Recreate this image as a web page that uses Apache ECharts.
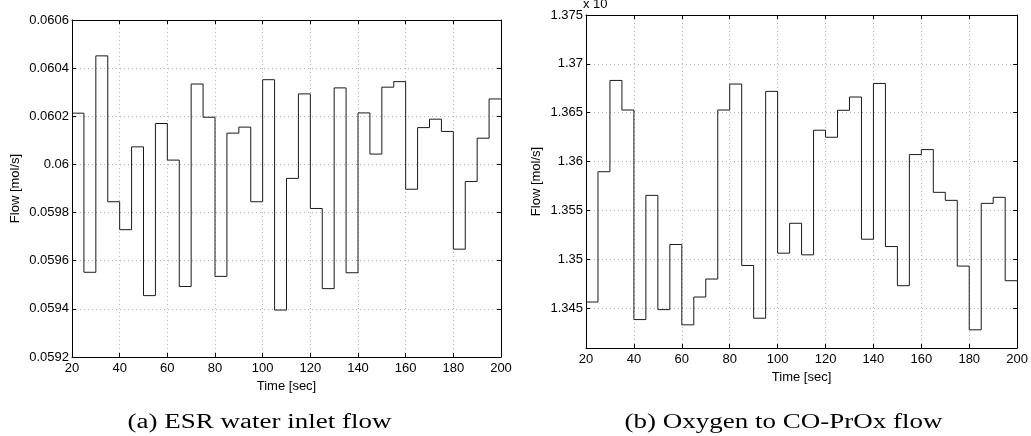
<!DOCTYPE html>
<html><head><meta charset="utf-8">
<script src="https://cdn.jsdelivr.net/npm/echarts@6/dist/echarts.min.js"></script>
<style>html,body{margin:0;padding:0;background:#fff}#c{width:1031px;height:436px}</style>
</head><body><div id="c"></div>
<script>
const time = [20,25,30,35,40,45,50,55,60,65,70,75,80,85,90,95,100,105,110,115,120,125,130,135,140,145,150,155,160,165,170,175,180,185,190,195,200];
const esrWater = [0.060213,0.059552,0.060451,0.059845,0.059729,0.060073,0.059455,0.060170,0.060018,0.059493,0.060334,0.060196,0.059535,0.060130,0.060155,0.059845,0.060352,0.059395,0.059942,0.060293,0.059817,0.059484,0.060318,0.059550,0.060214,0.060043,0.060321,0.060344,0.059897,0.060153,0.060188,0.060137,0.059648,0.059929,0.060109,0.060272,0.060272];
const oxygen = [1.34561,1.35895,1.36830,1.36527,1.34381,1.35653,1.34483,1.35150,1.34327,1.34612,1.34796,1.36527,1.36793,1.34935,1.34395,1.36718,1.35061,1.35367,1.35044,1.36320,1.36248,1.36524,1.36660,1.35204,1.36799,1.35129,1.34728,1.36071,1.36122,1.35684,1.35602,1.34929,1.34276,1.35571,1.35633,1.34779,1.34779];
const leftYTicks = [0.0592,0.0594,0.0596,0.0598,0.06,0.0602,0.0604,0.0606];
const rightYTicks = [1.345,1.35,1.355,1.36,1.365,1.37,1.375];
const xTicks = [20,40,60,80,100,120,140,160,180,200];
const captions = ['(a) ESR water inlet flow','(b) Oxygen to CO-PrOx flow'];
const yTitle = 'Flow [mol/s]';
const xTitle = 'Time [sec]';
const expLabel = 'x 10';
const expPower = '-3';

const SANS = '"Liberation Sans", Arial, sans-serif';
const grid = [
  {left:72, top:20, width:429, height:337},
  {left:586, top:15, width:436, height:333}
];
const split = {show:true, lineStyle:{color:'#b4b4b4', width:1, type:[1,3]}};
const axLine = {show:true, lineStyle:{color:'#000', width:1}};
const tickIn = {show:true, inside:true, length:4, lineStyle:{color:'#000'}};
const lab = {color:'#000', fontFamily:SANS, fontSize:13};

function xAxes(gi){
  return [
    {type:'value', gridIndex:gi, position:'bottom', min:20, max:200, interval:20,
     axisLine:axLine, axisTick:Object.assign({customValues:xTicks},tickIn),
     axisLabel:Object.assign({margin:5, customValues:xTicks},lab),
     splitLine:split,
     name:xTitle, nameLocation:'middle', nameGap:gi===0?17:16,
     nameTextStyle:{color:'#000', fontFamily:SANS, fontSize:13}},
    {type:'value', gridIndex:gi, position:'top', min:20, max:200, interval:20,
     axisLine:axLine, axisTick:tickIn, axisLabel:{show:false}, splitLine:{show:false}}
  ];
}
function fmt(v){ return String(parseFloat(v.toFixed(4))); }
function fmt3(v){ return String(parseFloat(v.toFixed(3))); }
const yAxes = [
  {type:'value', gridIndex:0, position:'left', min:0.0592, max:0.0606,
   axisLine:axLine, axisTick:Object.assign({customValues:leftYTicks},tickIn),
   axisLabel:Object.assign({margin:3, customValues:leftYTicks, formatter:fmt},lab),
   splitLine:split,
   name:yTitle, nameLocation:'middle', nameGap:50,
   nameTextStyle:{color:'#000', fontFamily:SANS, fontSize:13}},
  {type:'value', gridIndex:0, position:'right', min:0.0592, max:0.0606,
   axisLine:axLine, axisTick:Object.assign({customValues:leftYTicks},tickIn), axisLabel:{show:false}, splitLine:{show:false}},
  {type:'value', gridIndex:1, position:'left', min:1.3409, max:1.375,
   axisLine:axLine, axisTick:Object.assign({customValues:rightYTicks},tickIn),
   axisLabel:Object.assign({margin:3, customValues:rightYTicks, formatter:fmt3},lab),
   splitLine:split,
   name:yTitle, nameLocation:'middle', nameGap:43,
   nameTextStyle:{color:'#000', fontFamily:SANS, fontSize:13}},
  {type:'value', gridIndex:1, position:'right', min:1.3409, max:1.375,
   axisLine:axLine, axisTick:Object.assign({customValues:rightYTicks},tickIn), axisLabel:{show:false}, splitLine:{show:false}}
];

const chart = echarts.init(document.getElementById('c'), null, {renderer:'canvas'});
chart.setOption({
  animation:false,
  backgroundColor:'#fff',
  grid:grid,
  xAxis:[].concat(xAxes(0), xAxes(1)),
  yAxis:yAxes,
  series:[
    {type:'line', xAxisIndex:0, yAxisIndex:0, step:'end', showSymbol:false, symbol:'none',
     lineStyle:{color:'#1a1a1a', width:1}, data:time.map((t,i)=>[t, esrWater[i]])},
    {type:'line', xAxisIndex:2, yAxisIndex:2, step:'end', showSymbol:false, symbol:'none',
     lineStyle:{color:'#1a1a1a', width:1}, data:time.map((t,i)=>[t, oxygen[i]])}
  ],
  graphic:[
    {type:'text', x:259.5, y:422.7, scaleX:1.35, style:{text:captions[0], fill:'#000',
      font:'20px "Liberation Serif", "Times New Roman", serif', textAlign:'center', textVerticalAlign:'middle'}},
    {type:'text', x:783.5, y:422.7, scaleX:1.35, style:{text:captions[1], fill:'#000',
      font:'20px "Liberation Serif", "Times New Roman", serif', textAlign:'center', textVerticalAlign:'middle'}},
    {type:'text', x:583, y:4.5, style:{text:expLabel, fill:'#000', font:'13px "Liberation Sans", Arial, sans-serif',
      textAlign:'left', textVerticalAlign:'middle'}},
    {type:'text', x:612, y:-3.5, style:{text:expPower, fill:'#000', font:'10px "Liberation Sans", Arial, sans-serif',
      textAlign:'left', textVerticalAlign:'middle'}}
  ]
});
</script>
</body></html>
